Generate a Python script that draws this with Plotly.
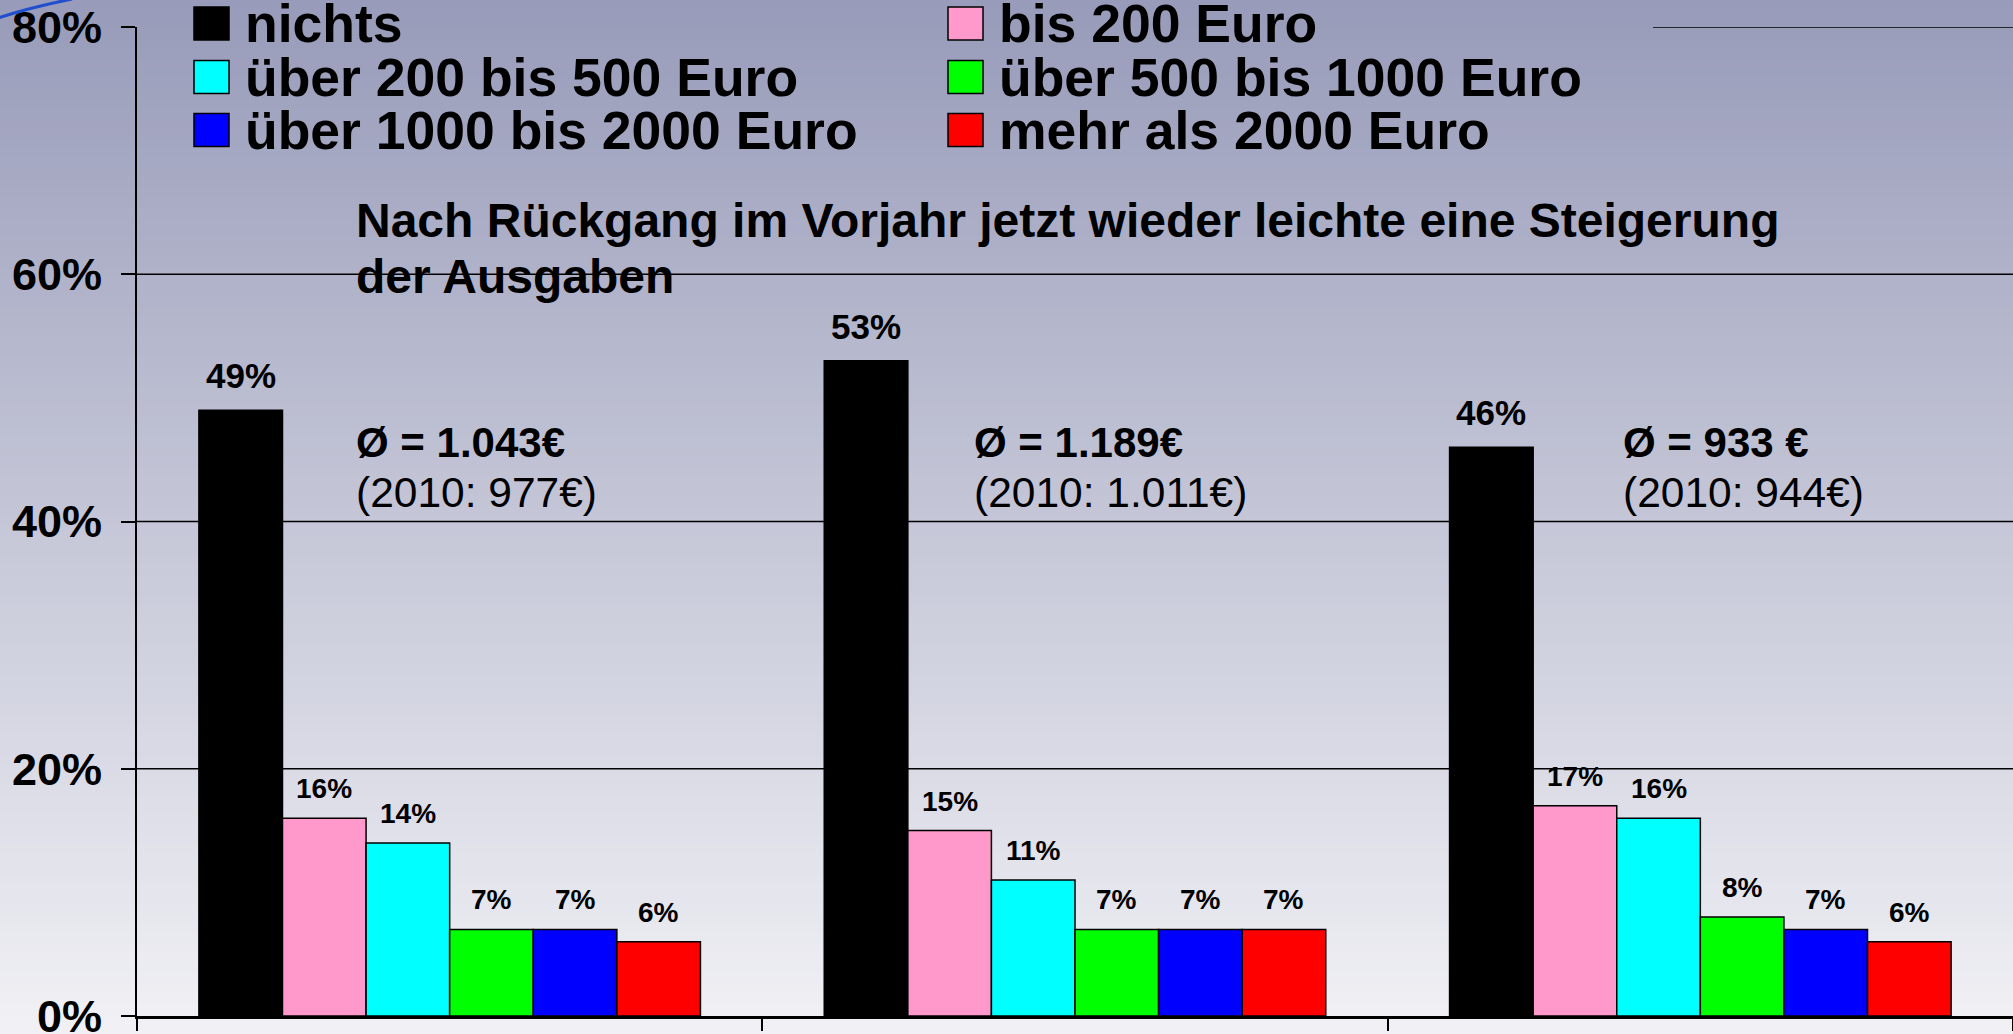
import plotly.graph_objects as go

# ---------------- data ----------------
categories = ["Gruppe 1", "Gruppe 2", "Gruppe 3"]
series_names = ["nichts", "bis 200 Euro", "über 200 bis 500 Euro",
                "über 500 bis 1000 Euro", "über 1000 bis 2000 Euro", "mehr als 2000 Euro"]
series_colors = ["#000000", "#ff99cc", "#00ffff", "#00ff00", "#0000ff", "#ff0000"]

nichts = [49, 53, 46]
bis_200 = [16, 15, 17]
ueber_200_500 = [14, 11, 16]
ueber_500_1000 = [7, 7, 8]
ueber_1000_2000 = [7, 7, 7]
mehr_2000 = [6, 7, 6]
series_values = [nichts, bis_200, ueber_200_500, ueber_500_1000, ueber_1000_2000, mehr_2000]

avg_text = ["Ø = 1.043€", "Ø = 1.189€", "Ø = 933 €"]
prev_text = ["(2010: 977€)", "(2010: 1.011€)", "(2010: 944€)"]
subtitle_lines = ["Nach Rückgang im Vorjahr jetzt wieder leichte eine Steigerung", "der Ausgaben"]
y_ticks = [0, 20, 40, 60, 80]
y_tick_labels = ["0%", "20%", "40%", "60%", "80%"]

# ---------------- layout helpers ----------------
W, H = 2013, 1034
FONT = "Liberation Sans, Arial, sans-serif"


def px(x):
    return x / W


def py(y):
    return 1 - y / H


BARGAP = 0.198
bw = (1 - BARGAP) / len(series_names)

fig = go.Figure()
for name, color, vals in zip(series_names, series_colors, series_values):
    fig.add_trace(go.Bar(
        x=categories, y=vals, name=name,
        marker=dict(color=color, line=dict(color="#000000", width=1.5)),
        showlegend=False,
    ))

shapes = []
# vertical gradient background
top = (152, 155, 185)
bot = (241, 241, 245)
n = 104
for k in range(n):
    t = (k + 0.5) / n
    c = tuple(round(top[i] + (bot[i] - top[i]) * t) for i in range(3))
    shapes.append(dict(type="rect", xref="paper", yref="paper",
                       x0=-0.01, x1=1.01, y0=1 - (k + 1) / n - 0.002, y1=1 - k / n + 0.001,
                       fillcolor="rgb(%d,%d,%d)" % c, line=dict(width=0), layer="below"))
# gridlines
for v in y_ticks[1:-1]:
    shapes.append(dict(type="line", xref="paper", yref="y", x0=px(137), x1=1, y0=v, y1=v,
                       line=dict(color="#000000", width=1.5), layer="below"))
shapes.append(dict(type="line", xref="paper", yref="y", x0=px(1653), x1=1, y0=y_ticks[-1], y1=y_ticks[-1],
                   line=dict(color="#000000", width=1.5), layer="below"))
# decorative arc top-left
shapes.append(dict(type="path", xref="paper", yref="paper",
                   path="M -0.001 %f Q %f %f %f 1.001" % (py(18), px(28), py(8), px(72)),
                   line=dict(color="#1f4fcf", width=3)))

annotations = []
# legend (manual, two columns)
col_x = [194, 948]
row_y = [23.5, 77, 130]
for i, (name, color) in enumerate(zip(series_names, series_colors)):
    r, c = divmod(i, 2)
    x0 = col_x[c]
    yc = row_y[r]
    shapes.append(dict(type="rect", xref="paper", yref="paper",
                       x0=px(x0), x1=px(x0 + 35), y0=py(yc + 16.5), y1=py(yc - 16.5),
                       fillcolor=color, line=dict(color="#000000", width=1.5)))
    annotations.append(dict(xref="paper", yref="paper", x=px(x0 + 49), y=py(yc),
                            xanchor="left", yanchor="middle", showarrow=False,
                            text="<b>%s</b>" % name,
                            font=dict(family=FONT, size=53.5, color="#000000")))

# subtitle
for line, yc in zip(subtitle_lines, [220.5, 276.5]):
    annotations.append(dict(xref="paper", yref="paper", x=px(354), y=py(yc),
                            xanchor="left", yanchor="middle", showarrow=False,
                            text="<b>%s</b>" % line,
                            font=dict(family=FONT, size=48, color="#000000")))

# average annotations
avg_x = [354, 972, 1621]
for a, p, xx in zip(avg_text, prev_text, avg_x):
    annotations.append(dict(xref="paper", yref="paper", x=px(xx), y=py(442),
                            xanchor="left", yanchor="middle", showarrow=False,
                            text="<b>%s</b>" % a,
                            font=dict(family=FONT, size=42, color="#000000")))
    annotations.append(dict(xref="paper", yref="paper", x=px(xx), y=py(493),
                            xanchor="left", yanchor="middle", showarrow=False,
                            text=p,
                            font=dict(family=FONT, size=42.5, color="#000000")))

# value labels above bars
for j, vals in enumerate(series_values):
    for i, v in enumerate(vals):
        annotations.append(dict(xref="x", yref="y", x=i + (j - 2.5) * bw, y=v,
                                xanchor="center", yanchor="bottom", yshift=12 if j else 13,
                                showarrow=False, text="<b>%d%%</b>" % v,
                                font=dict(family=FONT, size=35 if j == 0 else 28, color="#000000")))

fig.update_layout(
    width=W, height=H,
    margin=dict(l=0, r=0, t=0, b=0, pad=0),
    paper_bgcolor="rgb(152,155,185)",
    plot_bgcolor="rgba(0,0,0,0)",
    barmode="group", bargap=BARGAP, bargroupgap=0,
    showlegend=False,
    shapes=shapes,
    annotations=annotations,
    xaxis=dict(type="category", domain=[px(137), 1], range=[-0.5, 2.5],
               showticklabels=False, ticks="outside", tickson="boundaries",
               ticklen=12, tickwidth=2, tickcolor="#000000",
               showline=True, linecolor="#000000", linewidth=3,
               showgrid=False, zeroline=False, automargin=False, fixedrange=True),
    yaxis=dict(domain=[py(1016), py(27)], range=[0, 80],
               tickmode="array", tickvals=y_ticks, ticktext=y_tick_labels,
               tickfont=dict(family=FONT, size=45, color="#000000", weight="bold"),
               ticks="outside", ticklen=14, tickwidth=2, tickcolor="#000000",
               ticklabelstandoff=10, ticklabeloverflow="allow",
               showline=True, linecolor="#000000", linewidth=2,
               showgrid=False, zeroline=False, automargin=False, fixedrange=True),
)

fig.write_html("out.html", config={"displayModeBar": False},
               post_script="document.body.style.margin='0px';")
